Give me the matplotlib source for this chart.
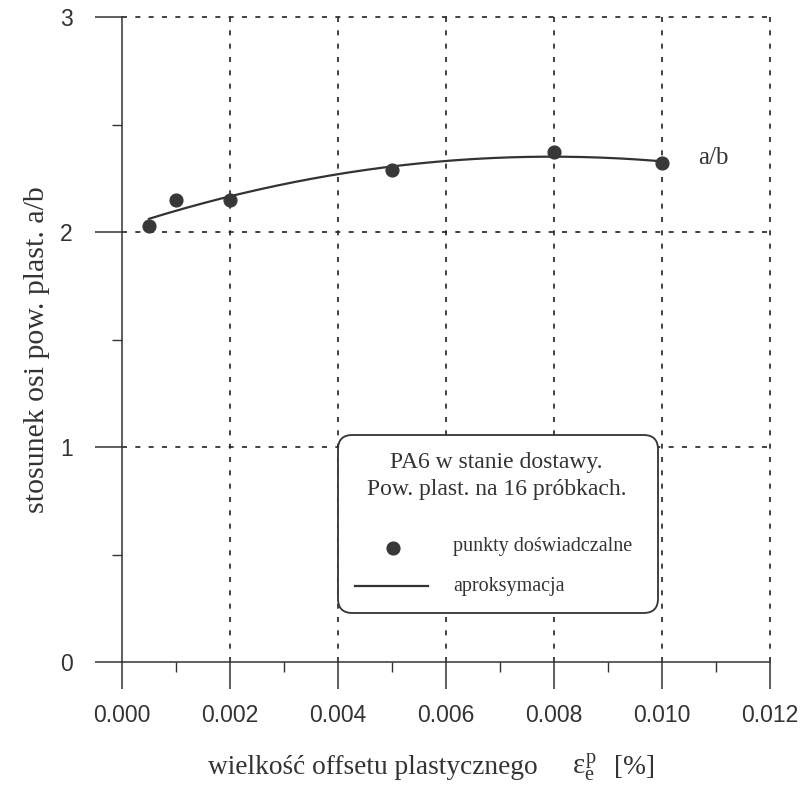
import numpy as np
import matplotlib
matplotlib.use("Agg")
import matplotlib.pyplot as plt
from matplotlib.ticker import MultipleLocator, FixedLocator
from matplotlib.patches import FancyBboxPatch
from matplotlib.lines import Line2D

# measured points: plastic offset [%] vs. ratio of yield-surface axes a/b
offset = [0.0005, 0.001, 0.002, 0.005, 0.008, 0.010]
ratio_ab = [2.03, 2.15, 2.15, 2.29, 2.37, 2.32]

x_ticks = [0.000, 0.002, 0.004, 0.006, 0.008, 0.010, 0.012]
x_tick_labels = ["0.000", "0.002", "0.004", "0.006", "0.008", "0.010", "0.012"]
y_ticks = [0, 1, 2, 3]

INK = "#333333"
W, H = 801, 788
plt.rcParams["mathtext.fontset"] = "custom"
plt.rcParams["mathtext.rm"] = "Liberation Serif"
plt.rcParams["mathtext.it"] = "Liberation Serif"
plt.rcParams["mathtext.bf"] = "Liberation Serif:bold"


def fx(px):
    return px / W


def fy(py):
    return 1 - py / H


fig = plt.figure(figsize=(W / 100, H / 100), dpi=100)
ax = fig.add_axes([fx(122), fy(662), 648 / W, 645 / H])

# second-order approximation of the measured points
coef = np.polyfit(offset, ratio_ab, 2)
xs = np.linspace(offset[0], offset[-1], 200)
ax.plot(xs, np.polyval(coef, xs), color=INK, lw=1.6, zorder=3)
ax.plot(offset, ratio_ab, "o", color="#383838", ms=9.2, mec="#383838",
        zorder=4)

ax.text(0.01066, 2.345, "a/b", family="Liberation Serif", fontsize=18,
        color=INK, va="center", ha="left")

ax.set_xlim(0, 0.012)
ax.set_ylim(0, 3)
ax.xaxis.set_major_locator(FixedLocator(x_ticks))
ax.set_xticklabels(x_tick_labels)
ax.xaxis.set_minor_locator(MultipleLocator(0.001))
ax.yaxis.set_major_locator(FixedLocator(y_ticks))
ax.yaxis.set_minor_locator(MultipleLocator(0.5))

for side in ("top", "right"):
    ax.spines[side].set_visible(False)
for side in ("left", "bottom"):
    ax.spines[side].set_color(INK)
    ax.spines[side].set_linewidth(1.1)

ax.tick_params(which="major", direction="out", length=19.5, width=1.1,
               color=INK, labelcolor=INK, labelsize=16.5)
ax.tick_params(which="minor", direction="out", length=7, width=1.0, color=INK)
ax.tick_params(axis="x", which="major", pad=11)
ax.tick_params(axis="y", which="major", pad=16)
for lab in ax.get_xticklabels() + ax.get_yticklabels():
    lab.set_family("Liberation Sans")

# dashed grid at the major ticks
for xv in x_ticks[1:]:
    ax.axvline(xv, color="#222222", lw=1.2, ls=(0, (3, 5)), zorder=1,
               clip_on=False)
for yv in y_ticks[1:]:
    ax.axhline(yv, color="#222222", lw=1.2, ls=(0, (3, 5)), zorder=1,
               clip_on=False)

# key box
box = FancyBboxPatch((fx(338), fy(613)), fx(658) - fx(338), fy(435) - fy(613),
                     boxstyle="round,pad=0,rounding_size=0.018",
                     transform=fig.transFigure, facecolor="white",
                     edgecolor=INK, lw=1.3, zorder=5,
                     mutation_aspect=W / H)
fig.add_artist(box)
fig.text(fx(496), fy(463), "PA6 w stanie dostawy.", family="Liberation Serif",
         fontsize=17, color=INK, ha="center", va="center", zorder=6)
fig.text(fx(497), fy(489), "Pow. plast. na 16 próbkach.",
         family="Liberation Serif", fontsize=17, color=INK,
         ha="center", va="center", zorder=6)
fig.add_artist(Line2D([fx(393)], [fy(548)], marker="o", ms=9.2,
                      color="#383838", mec="#383838", ls="none",
                      transform=fig.transFigure, zorder=6))
fig.text(fx(453), fy(546), "punkty doświadczalne", family="Liberation Serif",
         fontsize=14.5, color=INK, ha="left", va="center", zorder=6)
fig.add_artist(Line2D([fx(355), fx(428)], [fy(586), fy(586)], color=INK,
                      lw=1.6, transform=fig.transFigure, zorder=6))
fig.text(fx(453), fy(586), "aproksymacja", family="Liberation Serif",
         fontsize=14.5, color=INK, ha="left", va="center", zorder=6)

fig.text(fx(37), fy(350), "stosunek osi pow. plast. a/b",
         family="Liberation Serif", fontsize=21.5, color=INK,
         rotation=90, ha="center", va="center")
fig.text(fx(208), fy(767), "wielkość offsetu plastycznego",
         family="Liberation Serif", fontsize=19.7, color=INK,
         ha="left", va="center")
fig.text(fx(572), fy(767), "$\\varepsilon_{e}^{p}$",
         family="Liberation Serif", fontsize=21, color=INK,
         ha="left", va="center")
fig.text(fx(655), fy(767), "[%]",
         family="Liberation Serif", fontsize=19.7, color=INK,
         ha="right", va="center")

fig.savefig("out.png", dpi=100, facecolor="white")
